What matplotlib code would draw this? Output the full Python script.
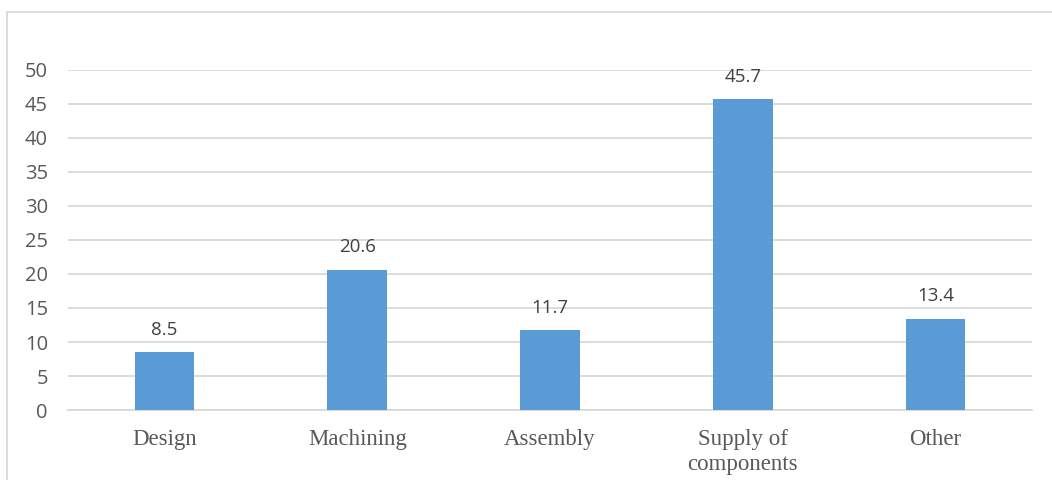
import matplotlib.pyplot as plt
from matplotlib.patches import Rectangle

# # Data
categories = ["Design", "Machining", "Assembly", "Supply of\ncomponents", "Other"]
values = [8.5, 20.6, 11.7, 45.7, 13.4]
yticks = [0, 5, 10, 15, 20, 25, 30, 35, 40, 45, 50]

bar_color = "#5B9BD5"
grid_color = "#D9D9D9"
text_color = "#595959"

fig = plt.figure(figsize=(10.52, 4.8), dpi=100)
ax = fig.add_axes([68 / 1052, 1 - 410 / 480, (1032 - 68) / 1052, 340 / 480])

# outer chart border (light gray, runs off the right and bottom)
fig.patches.append(Rectangle((7 / 1052, -0.1), 1.2, 1 - 12 / 480 + 0.1,
                             transform=fig.transFigure, fill=False,
                             edgecolor=grid_color, linewidth=1.3))

x = range(len(categories))
bars = ax.bar(x, values, width=0.31, color=bar_color, zorder=3)

for b, v in zip(bars, values):
    ax.text(b.get_x() + b.get_width() / 2, v + 2.0, f"{v:.1f}", ha="center", va="bottom",
            fontsize=13.5, color="#404040", family="Open Sans")

ax.set_xlim(-0.5, len(categories) - 0.5)
ax.set_ylim(0, 50)
ax.set_yticks(yticks)
ax.set_yticklabels([str(t) for t in yticks], family="Open Sans", fontsize=14.5, color=text_color)
ax.set_xticks(list(x))
ax.set_xticklabels(categories, family="Liberation Serif", fontsize=16.5, color=text_color,
                   linespacing=1.25)
ax.tick_params(axis="both", length=0)
ax.tick_params(axis="y", pad=14.5)
ax.tick_params(axis="x", pad=14)
ax.yaxis.grid(True, color=grid_color, linewidth=1.3, zorder=0)
for s in ["top", "right", "left"]:
    ax.spines[s].set_visible(False)
ax.spines["bottom"].set_color(grid_color)
ax.spines["bottom"].set_linewidth(1.3)

fig.savefig("out.png", dpi=100)
